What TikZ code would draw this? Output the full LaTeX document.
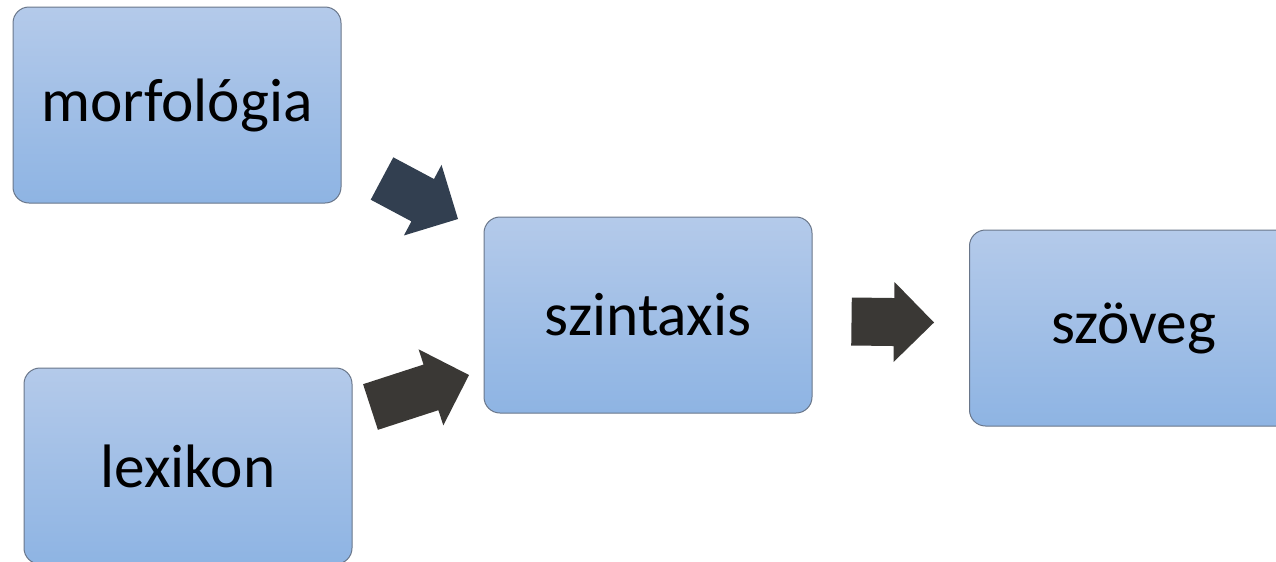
\documentclass[tikz,border=0pt]{standalone}
\usepackage{fontspec}
\setmainfont{Carlito}
\usetikzlibrary{calc}

\definecolor{boxtop}{RGB}{180,202,234}
\definecolor{boxbottom}{RGB}{142,180,227}
\definecolor{boxline}{RGB}{105,118,138}
\definecolor{arrownavy}{RGB}{50,63,80}
\definecolor{arrowgray}{RGB}{58,56,53}

% block arrow from tail #1 to tip #2, filled with #3
\newcommand{\blockarrow}[3]{%
\coordinate (#1base) at ($(#2)!30pt!(#1)$);
\fill [#3] ($(#1)!18pt!90:(#2)$) -- ($(#1base)!18pt!90:(#2)$) -- ($(#1base)!30pt!90:(#2)$) -- (#2) -- ($(#1base)!30pt!-90:(#2)$) -- ($(#1base)!18pt!-90:(#2)$) -- ($(#1)!18pt!-90:(#2)$) -- cycle ;}

\begin{document}
\begin{tikzpicture}[x=0.75pt,y=0.75pt,yscale=-1,xscale=1,
  stage/.style={draw=boxline, line width=0.75pt, rounded corners=12pt, top color=boxtop, bottom color=boxbottom,
    minimum width=246pt, minimum height=147pt, inner sep=0pt, font=\fontsize{46}{55}\selectfont}]
\useasboundingbox (0,0) rectangle (1276,561);

%Shape: Rounded Rect
\node [stage] (morfologia) at (177,105) {morfológia};
%Shape: Rounded Rect
\node [stage] (lexikon) at (188,466) {lexikon};
%Shape: Rounded Rect
\node [stage] (szintaxis) at (648,315) {szintaxis};
%Shape: Rounded Rect
\node [stage] (szoveg) at (1133.5,328) {szöveg};

% Arrow ends
\coordinate (morfTail) at (382,178.5);
\coordinate (morfTip) at (458,219);
\coordinate (lexTail) at (370.5,407);
\coordinate (lexTip) at (469,375);
\coordinate (szinTail) at (851.5,321.5);
\coordinate (szinTip) at (934,322.5);

%Shape: Right Arrow
\blockarrow{morfTail}{morfTip}{arrownavy}
%Shape: Right Arrow
\blockarrow{lexTail}{lexTip}{arrowgray}
%Shape: Right Arrow
\blockarrow{szinTail}{szinTip}{arrowgray}

\end{tikzpicture}
\end{document}
